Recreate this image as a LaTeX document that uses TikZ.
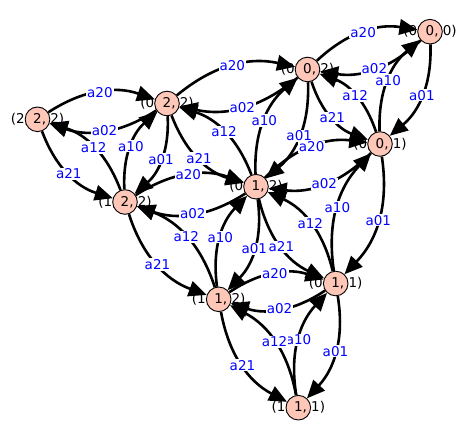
\documentclass[tikz,border=0pt]{standalone}
\usepackage{fontspec}
\setmainfont{DejaVu Sans}
\usetikzlibrary{arrows.meta,backgrounds}
\definecolor{vfill}{HTML}{FEC7B8}

\begin{document}
\begin{tikzpicture}[
x=1pt, y=1pt,
vlabel/.style={
font=\fontsize{13.5}{16}\selectfont,
inner sep=0pt
},
vertex/.style={
circle,
draw,
line width=0.9pt,
fill=vfill,
minimum size=24.6pt,
inner sep=0pt,
font=\fontsize{13.5}{16}\selectfont
},
edgearrow/.style={
line width=2.6pt,
-{Triangle[length=18pt,width=15.5pt]}
},
elabel/.style={
font=\fontsize{13.5}{16}\selectfont,
text=blue,
fill=white,
inner sep=1pt
}
]
\useasboundingbox (0,0) rectangle (468,439);

% vertex labels, then the circles over them
\node[vlabel] (t000) at (430,407.3) {(0, 0, 0)};
\node[vertex] (n000) at (430,407.3) {\makebox[0pt]{\phantom{(0, }0,\phantom{ 0)}}};

\node[vlabel] (t002) at (307.5,369.5) {(0, 0, 2)};
\node[vertex] (n002) at (307.5,369.5) {\makebox[0pt]{\phantom{(0, }0,\phantom{ 2)}}};

\node[vlabel] (t001) at (380,295) {(0, 0, 1)};
\node[vertex] (n001) at (380,295) {\makebox[0pt]{\phantom{(0, }0,\phantom{ 1)}}};

\node[vlabel] (t022) at (167,335.5) {(0, 2, 2)};
\node[vertex] (n022) at (167,335.5) {\makebox[0pt]{\phantom{(0, }2,\phantom{ 2)}}};

\node[vlabel] (t222) at (37.5,319.7) {(2, 2, 2)};
\node[vertex] (n222) at (37.5,319.7) {\makebox[0pt]{\phantom{(2, }2,\phantom{ 2)}}};

\node[vlabel] (t122) at (125,237) {(1, 2, 2)};
\node[vertex] (n122) at (125,237) {\makebox[0pt]{\phantom{(1, }2,\phantom{ 2)}}};

\node[vlabel] (t012) at (256,252.3) {(0, 1, 2)};
\node[vertex] (n012) at (256,252.3) {\makebox[0pt]{\phantom{(0, }1,\phantom{ 2)}}};

\node[vlabel] (t011) at (335.7,155.5) {(0, 1, 1)};
\node[vertex] (n011) at (335.7,155.5) {\makebox[0pt]{\phantom{(0, }1,\phantom{ 1)}}};

\node[vlabel] (t112) at (218.7,139.7) {(1, 1, 2)};
\node[vertex] (n112) at (218.7,139.7) {\makebox[0pt]{\phantom{(1, }1,\phantom{ 2)}}};

\node[vlabel] (t111) at (298.3,31.3) {(1, 1, 1)};
\node[vertex] (n111) at (298.3,31.3) {\makebox[0pt]{\phantom{(1, }1,\phantom{ 1)}}};

\begin{scope}[on background layer]
% 0 <-> 1 and 0 <-> 2
\draw[edgearrow] (n000) to[bend left=26] node[elabel] {a01} (n001);
\draw[edgearrow] (n001) to[bend left=26] node[elabel] {a10} (n000);
\draw[edgearrow] (n000) to[bend left=26] node[elabel] {a02} (n002);
\draw[edgearrow] (n002) to[bend left=26] node[elabel] {a20} (n000);
\draw[edgearrow] (n002) to[bend left=26] node[elabel] {a01} (n012);
\draw[edgearrow] (n012) to[bend left=26] node[elabel] {a10} (n002);
\draw[edgearrow] (n002) to[bend left=26] node[elabel] {a02} (n022);
\draw[edgearrow] (n022) to[bend left=26] node[elabel] {a20} (n002);
\draw[edgearrow] (n001) to[bend left=26] node[elabel] {a01} (n011);
\draw[edgearrow] (n011) to[bend left=26] node[elabel] {a10} (n001);
\draw[edgearrow] (n001) to[bend left=26] node[elabel] {a02} (n012);
\draw[edgearrow] (n012) to[bend left=26] node[elabel] {a20} (n001);
\draw[edgearrow] (n022) to[bend left=26] node[elabel] {a01} (n122);
\draw[edgearrow] (n122) to[bend left=26] node[elabel] {a10} (n022);
\draw[edgearrow] (n022) to[bend left=26] node[elabel] {a02} (n222);
\draw[edgearrow] (n222) to[bend left=26] node[elabel] {a20} (n022);
\draw[edgearrow] (n012) to[bend left=26] node[elabel] {a01} (n112);
\draw[edgearrow] (n112) to[bend left=26] node[elabel] {a10} (n012);
\draw[edgearrow] (n012) to[bend left=26] node[elabel] {a02} (n122);
\draw[edgearrow] (n122) to[bend left=26] node[elabel] {a20} (n012);
\draw[edgearrow] (n011) to[bend left=26] node[elabel] {a01} (n111);
\draw[edgearrow] (n111) to[bend left=26] node[elabel] {a10} (n011);
\draw[edgearrow] (n011) to[bend left=26] node[elabel] {a02} (n112);
\draw[edgearrow] (n112) to[bend left=26] node[elabel] {a20} (n011);
% 1 <-> 2
\draw[edgearrow] (n002) to[bend right=26] node[elabel] {a21} (n001);
\draw[edgearrow] (n001) to[bend right=26] node[elabel] {a12} (n002);
\draw[edgearrow] (n022) to[bend right=26] node[elabel] {a21} (n012);
\draw[edgearrow] (n012) to[bend right=26] node[elabel] {a12} (n022);
\draw[edgearrow] (n222) to[bend right=26] node[elabel] {a21} (n122);
\draw[edgearrow] (n122) to[bend right=26] node[elabel] {a12} (n222);
\draw[edgearrow] (n122) to[bend right=26] node[elabel] {a21} (n112);
\draw[edgearrow] (n112) to[bend right=26] node[elabel] {a12} (n122);
\draw[edgearrow] (n012) to[bend right=26] node[elabel] {a21} (n011);
\draw[edgearrow] (n011) to[bend right=26] node[elabel] {a12} (n012);
\draw[edgearrow] (n112) to[bend right=26] node[elabel] {a21} (n111);
\draw[edgearrow] (n111) to[bend right=26] node[elabel] {a12} (n112);
\end{scope}

\end{tikzpicture}
\end{document}
